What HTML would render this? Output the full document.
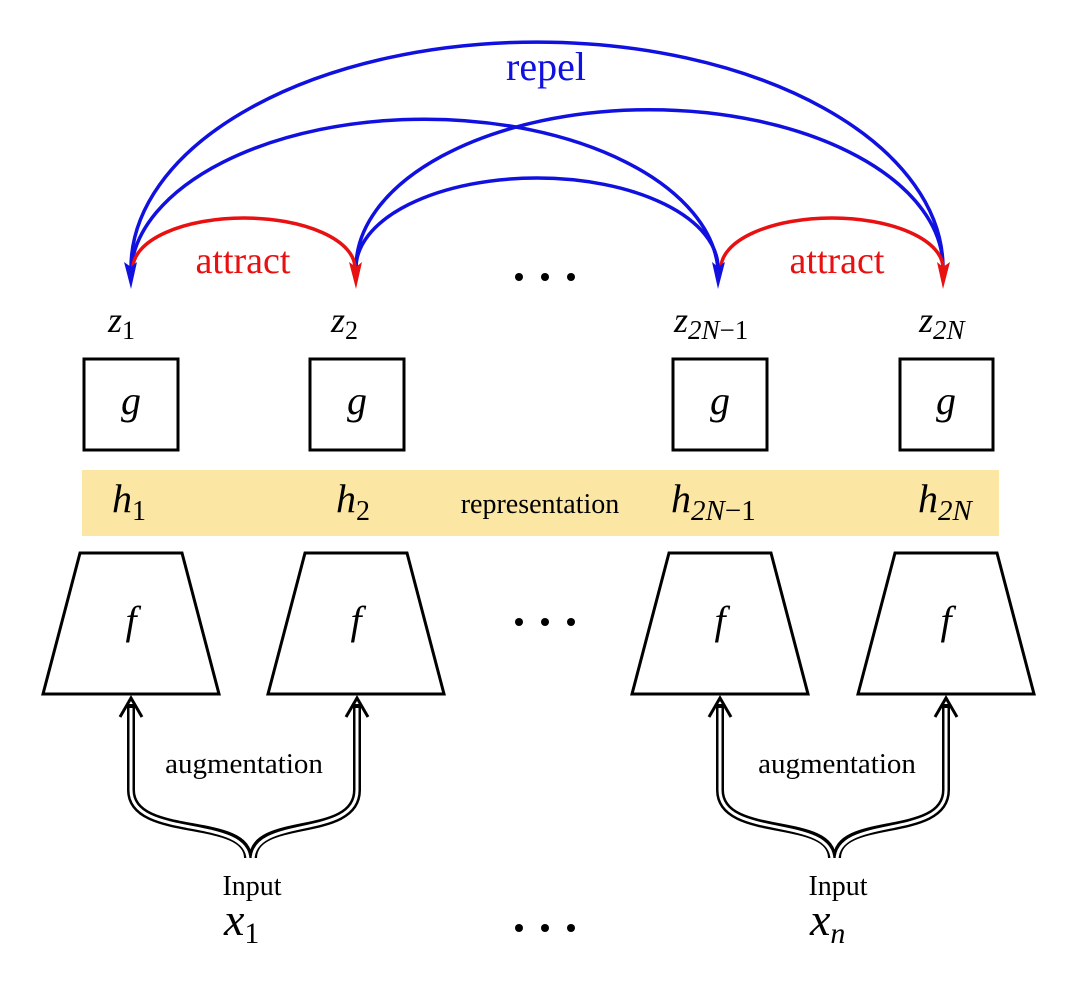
<!DOCTYPE html>
<html><head><style>
html,body{margin:0;padding:0;background:#fff;}
svg{display:block;}
text{font-family:"Liberation Serif",serif;}
</style></head><body>
<svg width="1080" height="1004" viewBox="0 0 1080 1004" xmlns="http://www.w3.org/2000/svg">
<!-- blue arcs -->
<g fill="none" stroke="#1010e0" stroke-width="3.5">
<path d="M131,268 A406,226 0 0 1 943,268"/>
<path d="M131,268 A294,158 0 0 1 718,268"/>
<path d="M356,268 A293,158 0 0 1 943,268"/>
<path d="M356,268 A181,90 0 0 1 718,268"/>
</g>
<g fill="none" stroke="#e81010" stroke-width="3.5">
<path d="M133,268 A111,50 0 0 1 355,268"/>
<path d="M721,268 A111,50 0 0 1 943,268"/>
</g>
<!-- arrowheads -->
<g fill="#1010e0">
<path d="M124,262 L131,267 L137,262 L131,289 Z"/>
<path d="M712,262 L718,267 L725,262 L718,289 Z"/>
</g>
<g fill="#e81010">
<path d="M349,262 L356,267 L362,262 L356,289 Z"/>
<path d="M937,262 L943,267 L950,262 L943,289 Z"/>
</g>
<text x="546" y="80" font-size="40" fill="#1010e0" text-anchor="middle">repel</text>
<text x="243" y="273" font-size="38" fill="#e81010" text-anchor="middle">attract</text>
<text x="837" y="273" font-size="38" fill="#e81010" text-anchor="middle">attract</text>
<g fill="#000"><circle cx="519" cy="277" r="4"/><circle cx="545" cy="277" r="4"/><circle cx="571" cy="277" r="4"/>
<circle cx="519" cy="622" r="4"/><circle cx="545" cy="622" r="4"/><circle cx="571" cy="622" r="4"/>
<circle cx="519" cy="928" r="4"/><circle cx="545" cy="928" r="4"/><circle cx="571" cy="928" r="4"/></g>
<!-- z labels -->
<g font-size="36" font-style="italic">
<text x="108" y="332">z<tspan font-size="26" font-style="normal" dy="7">1</tspan></text>
<text x="331" y="332">z<tspan font-size="26" font-style="normal" dy="7">2</tspan></text>
<text x="674" y="332">z<tspan font-size="27" dy="7">2N</tspan><tspan font-size="27" font-style="normal">−1</tspan></text>
<text x="919" y="332">z<tspan font-size="27" dy="7">2N</tspan></text>
</g>
<!-- g boxes -->
<g fill="#fff" stroke="#000" stroke-width="3">
<rect x="84" y="359" width="94" height="91"/>
<rect x="310" y="359" width="94" height="91"/>
<rect x="673" y="359" width="94" height="91"/>
<rect x="900" y="359" width="93" height="91"/>
</g>
<g font-size="40" font-style="italic" text-anchor="middle">
<text x="131" y="414">g</text><text x="357" y="414">g</text><text x="720" y="414">g</text><text x="946" y="414">g</text>
</g>
<!-- band -->
<rect x="82" y="470" width="917" height="66" fill="#fbe6a3"/>
<g font-size="40" font-style="italic">
<text x="112" y="512">h<tspan font-size="28" font-style="normal" dy="8">1</tspan></text>
<text x="336" y="512">h<tspan font-size="28" font-style="normal" dy="8">2</tspan></text>
<text x="671" y="512">h<tspan font-size="29" dy="8">2N</tspan><tspan font-size="29" font-style="normal">−1</tspan></text>
<text x="918" y="512">h<tspan font-size="29" dy="8">2N</tspan></text>
</g>
<text x="540" y="513" font-size="28" text-anchor="middle">representation</text>
<!-- trapezoids -->
<g fill="#fff" stroke="#000" stroke-width="3">
<path d="M80,553 L182,553 L219,694 L43,694 Z"/>
<path d="M305,553 L407,553 L444,694 L268,694 Z"/>
<path d="M669,553 L771,553 L808,694 L632,694 Z"/>
<path d="M895,553 L997,553 L1034,694 L858,694 Z"/>
</g>
<g font-size="40" font-style="italic" text-anchor="middle">
<text x="131" y="634">f</text><text x="356" y="634">f</text><text x="720" y="634">f</text><text x="946" y="634">f</text>
</g>
<!-- double arrows -->
<g fill="none" stroke-linecap="butt">
<g stroke="#000" stroke-width="8">
<path d="M248,858 C248,815 131,840 131,790 L131,704"/>
<path d="M253,858 C253,815 357,840 357,790 L357,704"/>
<path d="M832,858 C832,815 720,840 720,790 L720,704"/>
<path d="M837,858 C837,815 946,840 946,790 L946,704"/>
</g>
<g stroke="#fff" stroke-width="3">
<path d="M248,860 C248,815 131,840 131,790 L131,708"/>
<path d="M253,860 C253,815 357,840 357,790 L357,708"/>
<path d="M832,860 C832,815 720,840 720,790 L720,708"/>
<path d="M837,860 C837,815 946,840 946,790 L946,708"/>
</g>
<g stroke="#000" stroke-width="3">
<path d="M120,717 L131,698 L142,717"/>
<path d="M346,717 L357,698 L368,717"/>
<path d="M709,717 L720,698 L731,717"/>
<path d="M935,717 L946,698 L957,717"/>
</g>
</g>
<text x="244" y="773" font-size="29" text-anchor="middle">augmentation</text>
<text x="837" y="773" font-size="29" text-anchor="middle">augmentation</text>
<text x="252" y="895" font-size="28" text-anchor="middle">Input</text>
<text x="838" y="895" font-size="28" text-anchor="middle">Input</text>
<g font-size="46" font-style="italic">
<text x="224" y="935">x<tspan font-size="30" font-style="normal" dy="8">1</tspan></text>
<text x="810" y="935">x<tspan font-size="30" dy="8">n</tspan></text>
</g>
</svg>
</body></html>
